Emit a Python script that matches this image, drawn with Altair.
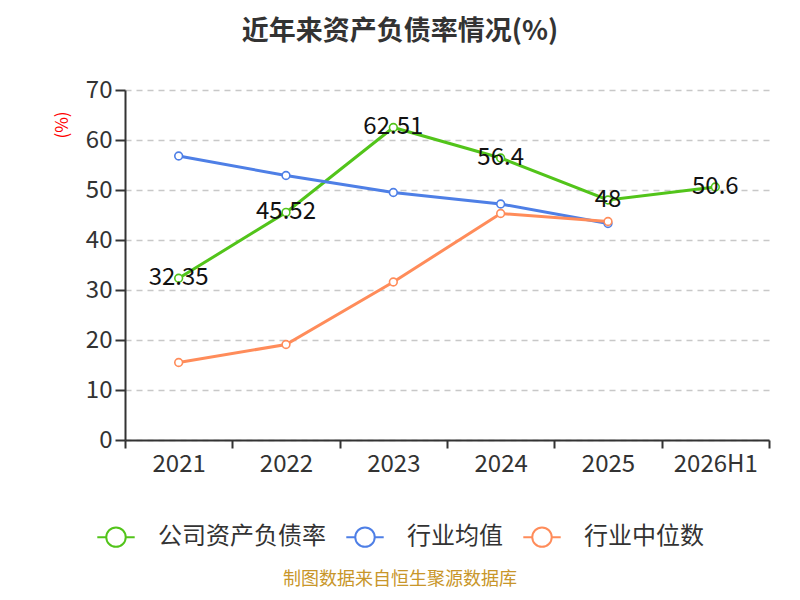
import altair as alt
import pandas as pd

years = ["2021", "2022", "2023", "2024", "2025", "2026H1"]
company = [32.35, 45.52, 62.51, 56.4, 48, 50.6]
industry_avg = [56.8, 52.9, 49.5, 47.2, 43.3]
industry_median = [15.5, 19.1, 31.6, 45.3, 43.7]

series_names = ["公司资产负债率", "行业均值", "行业中位数"]
series_colors = ["#52C41A", "#4E7FE6", "#FF8C5A"]

rows = []
for name, vals in zip(series_names, [company, industry_avg, industry_median]):
    for i, v in enumerate(vals):
        rows.append({"year": years[i], "value": v, "series": name, "order": series_names.index(name)})
df = pd.DataFrame(rows)
df_company = df[df["series"] == "公司资产负债率"].copy()
df_company["label"] = [f"{v:g}" for v in company]

FONT = "Noto Sans CJK SC"

legend_path = ("M-1,0L-0.52,0M0.52,0L1,0"
               "M-0.52,0A0.52,0.52 0 1,0 0.52,0A0.52,0.52 0 1,0 -0.52,0Z")

x_enc = alt.X("year:N", sort=years, scale=alt.Scale(domain=years, paddingInner=0, paddingOuter=0),
              axis=alt.Axis(title=None, labelAngle=0, labelFontSize=24, labelColor="#333333",
                            labelFont=FONT, domainColor="#333333", domainWidth=2, tickColor="#333333",
                            tickWidth=2, tickSize=8, tickBand="extent", labelPadding=4, grid=False))
y_enc = alt.Y("value:Q", scale=alt.Scale(domain=[0, 70], nice=False),
              axis=alt.Axis(title=None, values=list(range(0, 71, 10)), labelFontSize=24,
                            labelColor="#333333", labelFont=FONT, domainColor="#333333", domainWidth=2,
                            tickColor="#333333", tickWidth=2, tickSize=10, labelPadding=3,
                            grid=True, gridDash=[6, 5], gridColor="#c8c8c8", gridWidth=1.5))
color_enc = alt.Color("series:N", scale=alt.Scale(domain=series_names, range=series_colors),
                      sort=series_names,
                      legend=alt.Legend(title=None, orient="none", legendX=-29, legendY=427,
                                        direction="horizontal", symbolType=legend_path, symbolSize=1400,
                                        symbolStrokeWidth=2, symbolFillColor="white", labelFontSize=24,
                                        labelFont=FONT, labelColor="#333333", labelOffset=22,
                                        labelLimit=400, columnPadding=16, symbolLimit=0))

base = alt.Chart(df)

lines = base.mark_line(strokeWidth=3).encode(x=x_enc, y=y_enc, color=color_enc, order="order:Q",
                                             detail="series:N")
points = base.mark_point(filled=True, fill="white", size=60, strokeWidth=1.6, opacity=1).encode(
    x=alt.X("year:N", sort=years), y="value:Q",
    stroke=alt.Stroke("series:N", scale=alt.Scale(domain=series_names, range=series_colors), legend=None))

labels = alt.Chart(df_company).mark_text(fontSize=24, font=FONT, color="#111111", baseline="middle",
                                          align="center").encode(
    x=alt.X("year:N", sort=years), y="value:Q", text="label:N")

deco = pd.DataFrame({"d": [0]})
title = alt.Chart(deco).mark_text(text="近年来资产负债率情况(%)", fontSize=27, fontWeight="bold",
                                  font=FONT, color="#333333", align="center", baseline="middle").encode(
    x=alt.value(275), y=alt.value(-58))
unit = alt.Chart(deco).mark_text(text="(%)", fontSize=17, font=FONT, color="#ff0000", angle=270,
                                 align="center", baseline="middle").encode(
    x=alt.value(-62), y=alt.value(35))
footer = alt.Chart(deco).mark_text(text="制图数据来自恒生聚源数据库", fontSize=18, font=FONT,
                                   color="#C8962A", align="center", baseline="middle").encode(
    x=alt.value(275), y=alt.value(490))

chart = alt.layer(lines, points, labels, title, unit, footer).properties(
    width=644, height=350,
    autosize=alt.AutoSizeParams(type="none"),
    padding={"left": 117, "top": 82, "right": 23, "bottom": 152},
).configure_view(stroke=None).resolve_scale(color="independent")

chart.save("out.html", embed_options={"renderer": "svg", "actions": False})
